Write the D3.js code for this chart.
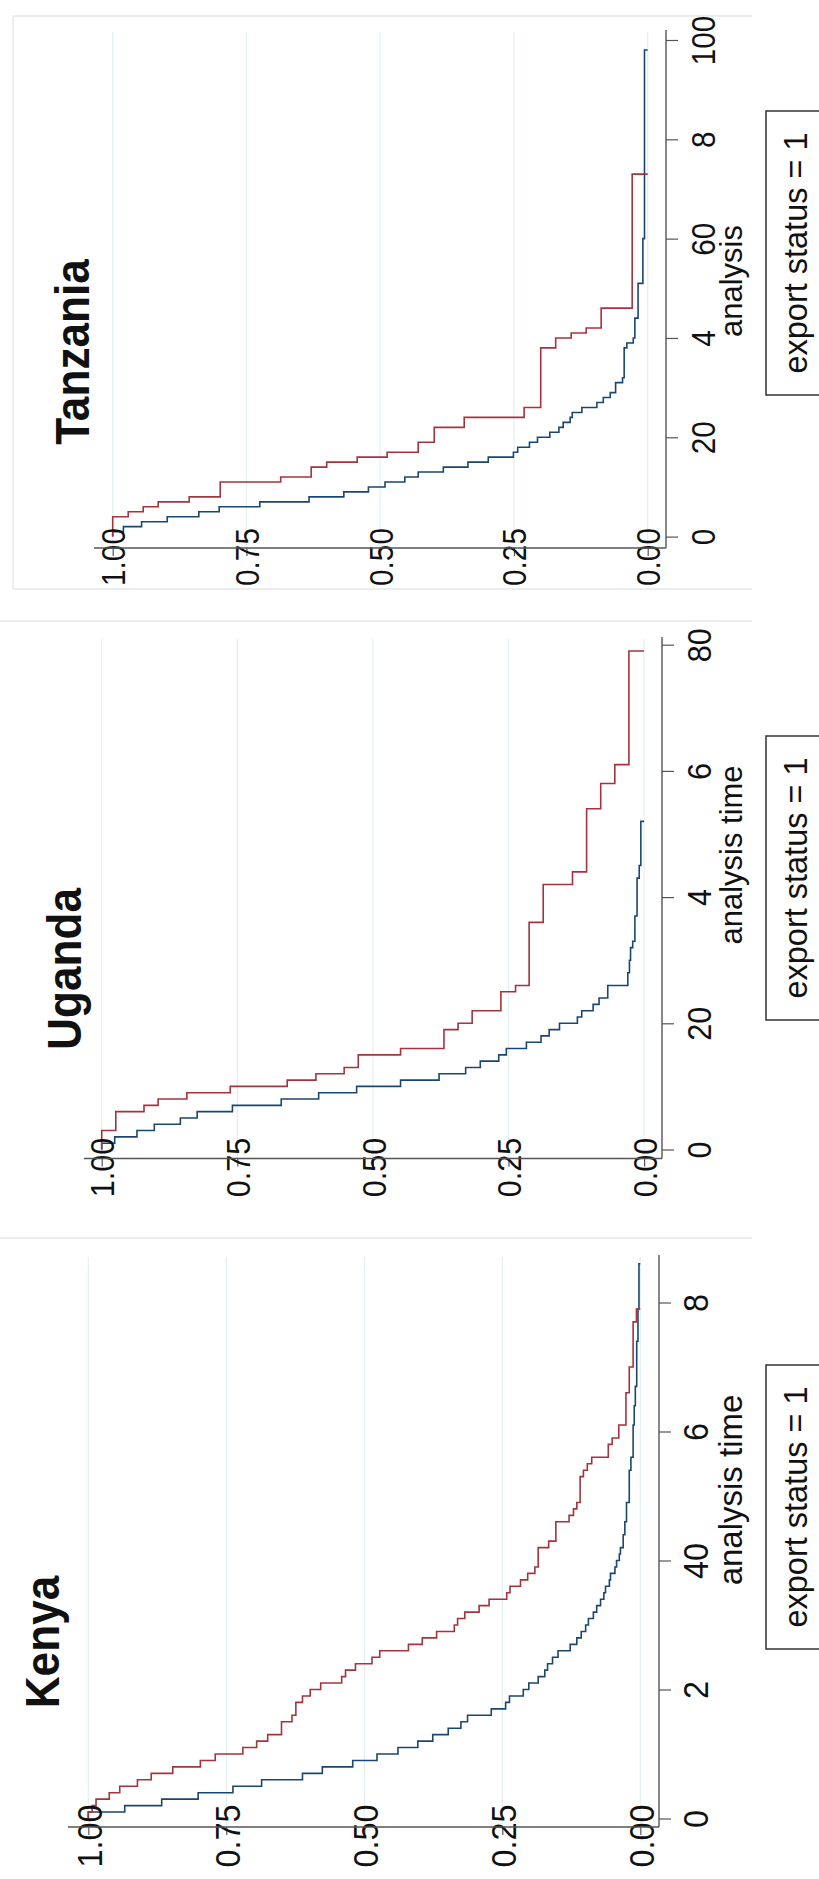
<!DOCTYPE html>
<html lang="en">
<head>
<meta charset="UTF-8">
<title>Kaplan-Meier survival estimates</title>
<script src="https://d3js.org/d3.v7.min.js"></script>
<style>
  body { margin: 0; background: #fff; }
  svg { display: block; font-family: "Liberation Sans", Arial, sans-serif; fill: #111; }
  .grid { stroke: #e4eff1; stroke-width: 1.2; }
  .frame { stroke: #e3e9eb; stroke-width: 1.3; fill: none; }
  .axisline { stroke: #555; stroke-width: 1.4; }
  .tick line { stroke: #555; stroke-width: 1.2; }
  .km { fill: none; stroke-width: 1.6; }
</style>
</head>
<body>
<svg id="chart"></svg>
<script>
// panels from top to bottom of the (rotated) picture
const countries = ["Tanzania", "Uganda", "Kenya"];
const survTicks = [1, 0.75, 0.5, 0.25, 0];
const timeTicks = {
  Tanzania: [0, 20, 40, 60, 80, 100],
  Uganda: [0, 20, 40, 60, 80],
  Kenya: [0, 20, 40, 60, 80]
};
// tick labels as printed (some digits are lost in the source)
const timeLabels = {
  Tanzania: ["0", "20", "4", "60", "8", "100"],
  Uganda: ["0", "20", "4", "6", "80"],
  Kenya: ["0", "2", "40", "6", "8"]
};
const axisTitles = { Tanzania: "analysis", Uganda: "analysis time", Kenya: "analysis time" };
const legendLabel = "export status = 1";

// survival estimates, export status = 0 (blue) and = 1 (red)
const kenyaT0 = [1,2,3,4,5,6,7,8,9,10,11,12,13,14,15,16,17,18,19,20,21,22,23,24,25,26,27,28,29,30,31,32,33,34,35,36,37,38,39,40,41,42,44,46,49,54,56,61,64,67,74,79,86];
const kenyaS0 = [.934,.867,.801,.738,.686,.612,.576,.521,.477,.439,.403,.376,.348,.325,.313,.270,.244,.237,.212,.202,.185,.173,.168,.159,.149,.127,.115,.107,.099,.094,.085,.079,.072,.066,.063,.056,.054,.046,.043,.038,.036,.031,.028,.025,.020,.017,.013,.011,.009,.0065,.0042,.0024,0];
const kenyaT1 = [1,2,3,4,5,6,7,8,9,10,11,12,13,15,16,18,19,20,21,22,23,24,25,26,27,28,29,30,31,32,33,34,35,36,37,38,39,42,43,46,47,48,49,53,54,55,56,58,59,61,66,70,77,79];
const kenyaS1 = [.993,.986,.962,.943,.911,.886,.847,.797,.770,.720,.695,.675,.650,.631,.624,.612,.598,.579,.541,.534,.516,.486,.472,.420,.395,.369,.337,.331,.318,.292,.274,.242,.236,.217,.204,.191,.185,.166,.153,.129,.121,.115,.109,.103,.096,.088,.058,.051,.039,.026,.020,.013,.007,0];

const ugandaT0 = [1,2,3,4,5,6,7,8,9,10,11,12,13,14,15,16,17,18,19,20,21,22,23,24,26,28,30,32,33,37,43,45,52];
const ugandaS0 = [.976,.935,.903,.855,.824,.759,.669,.600,.530,.449,.378,.329,.302,.268,.254,.217,.190,.175,.156,.123,.115,.094,.083,.067,.030,.027,.025,.021,.017,.013,.009,.006,0];
const ugandaT1 = [3,6,7,8,9,10,11,12,13,15,16,19,20,22,25,26,36,42,44,54,58,61,79];
const ugandaS1 = [.974,.922,.896,.843,.763,.658,.605,.553,.527,.449,.369,.343,.317,.264,.237,.212,.186,.132,.106,.080,.054,.028,0];

const tanzaniaT0 = [1,2,3,4,5,6,7,8,9,10,11,12,13,14,15,16,17,18,19,20,21,22,23,24,25,26,27,28,29,31,32,38,39,40,44,51,60,98];
const tanzaniaS0 = [.980,.946,.898,.839,.801,.725,.633,.568,.522,.491,.454,.429,.382,.336,.298,.251,.243,.221,.206,.183,.166,.158,.145,.141,.123,.095,.083,.070,.060,.047,.044,.039,.027,.024,.018,.009,.006,0];
const tanzaniaT1 = [4,5,6,7,8,11,12,14,15,16,17,19,22,24,26,38,40,41,42,46,73];
const tanzaniaS1 = [.971,.943,.915,.857,.799,.686,.629,.600,.543,.487,.429,.399,.343,.231,.200,.172,.143,.115,.087,.029,0];

const series = {
  Tanzania: [[tanzaniaT0, tanzaniaS0], [tanzaniaT1, tanzaniaS1]],
  Uganda: [[ugandaT0, ugandaS0], [ugandaT1, ugandaS1]],
  Kenya: [[kenyaT0, kenyaS0], [kenyaT1, kenyaS1]]
};
const colors = ["#1a476f", "#a3343d"];

// page geometry of each panel (screen pixels)
const layout = {
  Tanzania: { sx: [112.7, 647.7], ty: [536.6, 40], tdom: [0, 100], axisY: 548, axisX: 666, axisL: 94, top: 30,
              titleX: 89, titleY: 352, fs: 33, afs: 31, atY: 281, leg: [111, 395] },
  Uganda:   { sx: [101.7, 644.1], ty: [1149.5, 644.7], tdom: [0, 80], axisY: 1158.5, axisX: 662, axisL: 84, top: 637,
              titleX: 81, titleY: 969, fs: 34, afs: 31, atY: 855, leg: [736, 1020] },
  Kenya:    { sx: [88.3, 640.3], ty: [1818.5, 1302.5], tdom: [0, 80], axisY: 1827, axisX: 659, axisL: 68, top: 1255,
              titleX: 59, titleY: 1642, fs: 36, afs: 33, atY: 1490, leg: [1365, 1649] }
};

const width = 819, height = 1879;
const svg = d3.select("#chart").attr("width", width).attr("height", height);

// panel frames
svg.append("path").attr("class", "frame")
  .attr("d", "M752,16H13V589H752");
svg.append("line").attr("class", "frame").attr("x1", 0).attr("x2", 752).attr("y1", 621).attr("y2", 621);
svg.append("line").attr("class", "frame").attr("x1", 0).attr("x2", 752).attr("y1", 1238).attr("y2", 1238);

countries.forEach(c => {
  const L = layout[c];
  const x = d3.scaleLinear().domain([1, 0]).range(L.sx);
  const y = d3.scaleLinear().domain(L.tdom).range(L.ty);
  const g = svg.append("g");

  // grid lines at survival ticks
  g.selectAll(".grid").data(survTicks).enter().append("line")
    .attr("class", "grid")
    .attr("x1", d => x(d)).attr("x2", d => x(d))
    .attr("y1", L.top + 2).attr("y2", L.axisY);

  // survival curves
  const line = d3.line().x(d => x(d[1])).y(d => y(d[0])).curve(d3.curveStepBefore);
  series[c].forEach((s, i) => {
    const pts = [[0, 1]].concat(s[0].map((t, k) => [t, s[1][k]]));
    g.append("path").attr("class", "km").attr("stroke", colors[i]).attr("d", line(pts));
  });

  // survival axis (drawn horizontally)
  const sAxis = g.append("g").attr("transform", `translate(0,${L.axisY})`)
    .call(d3.axisBottom(x).tickValues(survTicks).tickSize(8).tickSizeOuter(0).tickFormat(d3.format(".2f")));
  sAxis.select(".domain").remove();
  sAxis.selectAll("text")
    .attr("x", 0).attr("y", 0).attr("dy", "0.36em")
    .attr("transform", "translate(0,9) rotate(-90) scale(0.9,1)")
    .attr("text-anchor", "middle")
    .style("font-size", L.fs + "px").attr("fill", "#111");

  // time axis (drawn vertically)
  const tAxis = g.append("g").attr("transform", `translate(${L.axisX},0)`)
    .call(d3.axisRight(y).tickValues(timeTicks[c]).tickSize(12).tickSizeOuter(0)
      .tickFormat((d, i) => timeLabels[c][i]));
  tAxis.select(".domain").remove();
  tAxis.selectAll("text")
    .attr("x", 0).attr("y", 0).attr("dy", 0)
    .attr("transform", "translate(49,0) rotate(-90) scale(0.9,1)")
    .attr("text-anchor", "middle")
    .style("font-size", L.fs + "px").attr("fill", "#111");

  g.append("line").attr("class", "axisline")
    .attr("x1", L.axisL).attr("x2", L.axisX).attr("y1", L.axisY).attr("y2", L.axisY);
  g.append("line").attr("class", "axisline")
    .attr("x1", L.axisX).attr("x2", L.axisX).attr("y1", L.top).attr("y2", L.axisY);

  // titles and labels, all rotated
  g.append("text")
    .attr("transform", `translate(${L.titleX},${L.titleY}) rotate(-90) scale(0.92,1)`)
    .attr("text-anchor", "middle")
    .style("font-size", "48px").style("font-weight", "bold")
    .text(c);

  g.append("text")
    .attr("transform", `translate(742,${L.atY}) rotate(-90)`)
    .attr("text-anchor", "middle")
    .style("font-size", L.afs + "px")
    .text(axisTitles[c]);

  g.append("rect")
    .attr("x", 766).attr("y", L.leg[0])
    .attr("width", 80).attr("height", L.leg[1] - L.leg[0])
    .attr("fill", "#fff").attr("stroke", "#333").attr("stroke-width", 1.5);
  g.append("text")
    .attr("transform", `translate(807,${(L.leg[0] + L.leg[1]) / 2}) rotate(-90)`)
    .attr("text-anchor", "middle")
    .style("font-size", "32.5px")
    .text(legendLabel);
});
</script>
</body>
</html>
